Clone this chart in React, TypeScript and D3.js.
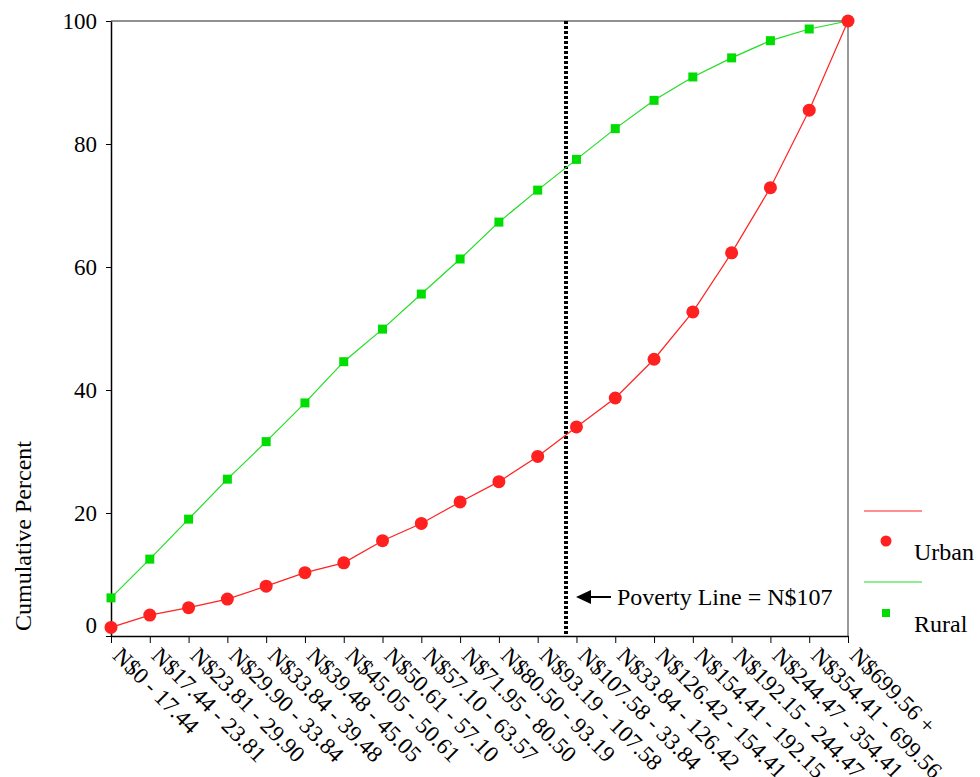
import React, { useEffect, useRef } from 'react';
import * as d3 from 'd3';

// income group labels (copied as printed in the original)
const groups = [
  "N$0 - 17.44", "N$17.44 - 23.81", "N$23.81 - 29.90", "N$29.90 - 33.84",
  "N$33.84 - 39.48", "N$39.48 - 45.05", "N$45.05 - 50.61", "N$50.61 - 57.10",
  "N$57.10 - 63.57", "N$71.95 - 80.50", "N$80.50 - 93.19", "N$93.19 - 107.58",
  "N$107.58 - 33.84", "N$33.84 - 126.42", "N$126.42 - 154.41", "N$154.41 - 192.15",
  "N$192.15 - 244.47", "N$244.47 - 354.41", "N$354.41 - 699.56", "N$699.56 +"
];

const urban = [1.4, 3.4, 4.6, 6.0, 8.1, 10.3, 11.9, 15.5, 18.3, 21.8,
  25.1, 29.2, 34.0, 38.7, 45.0, 52.7, 62.3, 72.9, 85.5, 100];
const rural = [6.2, 12.5, 19.0, 25.5, 31.6, 37.9, 44.6, 49.9, 55.6, 61.3,
  67.3, 72.5, 77.5, 82.5, 87.1, 90.9, 94.0, 96.8, 98.7, 100];

const yTicks = [0, 20, 40, 60, 80, 100];
// poverty line position, in category units
const povertyPos = 11.73;
const povertyLabel = "Poverty Line = N$107";

const App = () => {
  const ref = useRef<SVGSVGElement | null>(null);

  useEffect(() => {
    const svg = d3.select(ref.current);
    svg.selectAll("*").remove();
    const font = "Liberation Serif";

    const left = 111, right = 848, top = 21, bottom = 636;
    const x = d3.scaleLinear().domain([0, groups.length - 1]).range([left, right]);
    const y = d3.scaleLinear().domain([0, 100]).range([bottom, top]);

    // frame
    svg.append("line").attr("x1", left).attr("x2", right).attr("y1", top).attr("y2", top)
      .attr("stroke", "#222").attr("stroke-width", 1);
    svg.append("line").attr("x1", right).attr("x2", right).attr("y1", top).attr("y2", bottom)
      .attr("stroke", "#777").attr("stroke-width", 1.5);

    // y axis
    const yAxis = svg.append("g").attr("transform", `translate(${left},0)`)
      .call(d3.axisLeft(y).tickValues(yTicks).tickSize(5).tickSizeOuter(0).tickPadding(9));
    yAxis.select(".domain").attr("stroke", "#000").attr("stroke-width", 1.5);
    yAxis.selectAll(".tick line").attr("stroke", "#000");
    yAxis.selectAll(".tick text")
      .style("font-family", font).style("font-size", "23px").attr("fill", "#000")
      .attr("dy", (d: any) => d === 0 ? "-0.15em" : "0.32em");

    // x axis
    const xAxis = svg.append("g").attr("transform", `translate(0,${bottom})`)
      .call(d3.axisBottom(x).tickValues(d3.range(groups.length)).tickSize(7).tickSizeOuter(0)
        .tickFormat((d: any) => groups[d]));
    xAxis.select(".domain").attr("stroke", "#000").attr("stroke-width", 1.5);
    xAxis.selectAll(".tick line").attr("stroke", "#000");
    xAxis.selectAll(".tick text")
      .style("font-family", font).style("font-size", "23px").attr("fill", "#000")
      .attr("text-anchor", "start")
      .attr("dy", 0)
      .attr("y", 0)
      .attr("transform", "translate(0,21) rotate(45)");

    // y title
    svg.append("text")
      .attr("transform", "translate(31,536) rotate(-90)")
      .attr("text-anchor", "middle")
      .style("font-family", font).style("font-size", "24px")
      .text("Cumulative Percent");

    // poverty line
    svg.append("line")
      .attr("x1", x(povertyPos)).attr("x2", x(povertyPos))
      .attr("y1", top).attr("y2", bottom)
      .attr("stroke", "#000").attr("stroke-width", 4)
      .attr("stroke-dasharray", "3,2");

    // arrow + label
    const ay = 597;
    svg.append("line")
      .attr("x1", x(povertyPos) + 22).attr("x2", x(povertyPos) + 45)
      .attr("y1", ay).attr("y2", ay)
      .attr("stroke", "#000").attr("stroke-width", 2);
    svg.append("path")
      .attr("d", d3.line()([[x(povertyPos) + 10, ay], [x(povertyPos) + 25, ay - 7], [x(povertyPos) + 25, ay + 7]]) + "Z")
      .attr("fill", "#000");
    svg.append("text")
      .attr("x", x(povertyPos) + 51).attr("y", ay + 8)
      .style("font-family", font).style("font-size", "24px")
      .text(povertyLabel);

    const line = d3.line<number>().x((d, i) => x(i)).y(d => y(d));

    // rural series
    svg.append("path").datum(rural)
      .attr("d", line).attr("fill", "none")
      .attr("stroke", "#22dd22").attr("stroke-width", 1.2);
    svg.selectAll(".ruralPt").data(rural).enter().append("rect")
      .attr("class", "ruralPt")
      .attr("x", (d, i) => x(i) - 4.5).attr("y", d => y(d) - 4.5)
      .attr("width", 9).attr("height", 9)
      .attr("fill", "#00dd00");

    // urban series
    svg.append("path").datum(urban)
      .attr("d", line).attr("fill", "none")
      .attr("stroke", "#ff2222").attr("stroke-width", 1.2);
    svg.selectAll(".urbanPt").data(urban).enter().append("circle")
      .attr("class", "urbanPt")
      .attr("cx", (d, i) => x(i)).attr("cy", d => y(d))
      .attr("r", 6.5)
      .attr("fill", "#ff2020");

    // legend
    const lg = svg.append("g");
    lg.append("line").attr("x1", 864).attr("x2", 922).attr("y1", 511).attr("y2", 511)
      .attr("stroke", "#ff2222").attr("stroke-width", 1.2);
    lg.append("circle").attr("cx", 886).attr("cy", 541).attr("r", 5.5).attr("fill", "#ff2020");
    lg.append("text").attr("x", 914).attr("y", 560)
      .style("font-family", font).style("font-size", "24px").text("Urban");
    lg.append("line").attr("x1", 864).attr("x2", 922).attr("y1", 582).attr("y2", 582)
      .attr("stroke", "#22dd22").attr("stroke-width", 1.2);
    lg.append("rect").attr("x", 882).attr("y", 609).attr("width", 8).attr("height", 8)
      .attr("fill", "#00dd00");
    lg.append("text").attr("x", 914).attr("y", 632)
      .style("font-family", font).style("font-size", "24px").text("Rural");
  }, []);

  return (
    <svg ref={ref} width={980} height={777}
      style={{ position: "absolute", left: 0, top: 0, background: "#fff" }} />
  );
};

export default App;
